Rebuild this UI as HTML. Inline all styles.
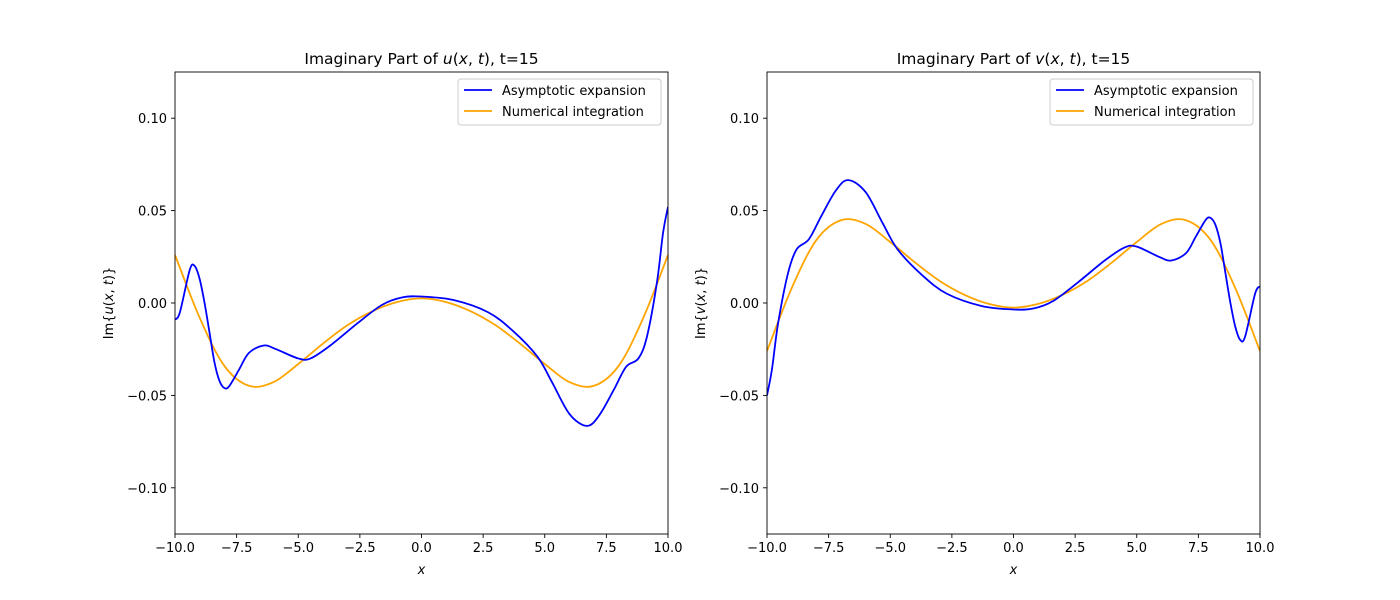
<!DOCTYPE html>
<html><head><meta charset="utf-8"><style>
body{margin:0;background:#fff}
svg{display:block;font-family:"DejaVu Sans","Liberation Sans",sans-serif}
</style></head><body>
<svg id="fig" width="1400" height="600" viewBox="0 0 1400 600" xmlns="http://www.w3.org/2000/svg"></svg>
<script>
const xTicks=[-10,-7.5,-5,-2.5,0,2.5,5,7.5,10];
const xTickLabels=["−10.0","−7.5","−5.0","−2.5","0.0","2.5","5.0","7.5","10.0"];
const yTicks=[-0.10,-0.05,0,0.05,0.10];
const yTickLabels=["−0.10","−0.05","0.00","0.05","0.10"];
const uAsymX=[-10,-9.8,-9.4,-9.2,-9.0,-8.8,-8.6,-8.4,-8.2,-8.0,-7.8,-7.4,-7.0,-6.4,-5.9,-5.0,-4.5,-3.7,-2.6,-1.6,-0.8,0,1.3,2.7,3.7,4.7,5.3,6.0,6.7,7.2,7.8,8.3,8.8,9.15,9.55,9.8,10];
const uAsymY=[-0.009,-0.005,0.018,0.020,0.013,0.0,-0.016,-0.032,-0.042,-0.046,-0.045,-0.036,-0.027,-0.023,-0.025,-0.030,-0.030,-0.023,-0.011,-0.001,0.003,0.0035,0.0016,-0.005,-0.015,-0.029,-0.043,-0.060,-0.0665,-0.061,-0.047,-0.0345,-0.030,-0.018,0.011,0.038,0.052];
const uNumX=[-10,-9,-8,-7,-6,-5,-4,-3,-2,-1,0,1,2,3,4,5,6,7,8,9,10];
const uNumY=[0.026,-0.008,-0.034,-0.0448,-0.0428,-0.033,-0.022,-0.012,-0.0045,0.0005,0.0025,0.0005,-0.0045,-0.012,-0.022,-0.033,-0.0428,-0.0448,-0.034,-0.008,0.026];
const vAsymX=[-10,-9.8,-9.55,-9.15,-8.8,-8.3,-7.8,-7.2,-6.7,-6.0,-5.3,-4.7,-3.7,-2.7,-1.3,0,0.8,1.6,2.6,3.7,4.5,5.0,5.9,6.4,7.0,7.4,7.8,8.0,8.2,8.4,8.6,8.8,9.0,9.2,9.4,9.8,10];
const vAsymY=[-0.050,-0.036,-0.011,0.016,0.029,0.0345,0.047,0.061,0.0665,0.060,0.043,0.029,0.015,0.005,-0.0016,-0.0035,-0.003,0.001,0.011,0.023,0.030,0.0305,0.025,0.023,0.027,0.036,0.045,0.046,0.042,0.032,0.016,0.0,-0.013,-0.020,-0.018,0.005,0.009];
const vNumX=[-10,-9,-8,-7,-6,-5,-4,-3,-2,-1,0,1,2,3,4,5,6,7,8,9,10];
const vNumY=[-0.026,0.008,0.034,0.0448,0.0428,0.033,0.022,0.012,0.0045,-0.0005,-0.0025,-0.0005,0.0045,0.012,0.022,0.033,0.0428,0.0448,0.034,0.008,-0.026];

const NS="http://www.w3.org/2000/svg";
const svg=document.getElementById('fig');
function mk(tag,attrs,parent,text){const e=document.createElementNS(NS,tag);for(const k in attrs)e.setAttribute(k,attrs[k]);if(text!==undefined)e.textContent=text;(parent||svg).appendChild(e);return e;}
function spline(pts){let d="M"+pts[0][0].toFixed(2)+","+pts[0][1].toFixed(2);
 for(let i=0;i<pts.length-1;i++){const p0=pts[Math.max(i-1,0)],p1=pts[i],p2=pts[i+1],p3=pts[Math.min(i+2,pts.length-1)];
  const c1=[p1[0]+(p2[0]-p0[0])/6,p1[1]+(p2[1]-p0[1])/6],c2=[p2[0]-(p3[0]-p1[0])/6,p2[1]-(p3[1]-p1[1])/6];
  d+=" C"+c1[0].toFixed(2)+","+c1[1].toFixed(2)+" "+c2[0].toFixed(2)+","+c2[1].toFixed(2)+" "+p2[0].toFixed(2)+","+p2[1].toFixed(2);}
 return d;}
function panel(left,prefix,varName,ax,ay,nx,ny){
 const right=left+493,top=72,bottom=534;
 const sx=x=>left+(x+10)/20*(right-left);
 const sy=y=>bottom-(y+0.125)/0.25*(bottom-top);
 const g=mk('g',{});
 
 
 const clipId=prefix+'clip';
 const cp=mk('clipPath',{id:clipId},g);mk('rect',{x:left,y:top,width:right-left,height:bottom-top},cp);
 const s1=mk('path',{d:spline(nx.map((x,i)=>[sx(x),sy(ny[i])])),fill:'none',stroke:'#ffa500','stroke-width':1.8,'clip-path':'url(#'+clipId+')'},g);
 
 
 const s0=mk('path',{d:spline(ax.map((x,i)=>[sx(x),sy(ay[i])])),fill:'none',stroke:'#0000ff','stroke-width':1.8,'clip-path':'url(#'+clipId+')'},g);
 
 
 const fr=mk('rect',{x:left,y:top,width:right-left,height:bottom-top,fill:'none',stroke:'#000','stroke-width':0.9},g);
 
 
 xTicks.forEach((t,i)=>{const x=sx(t);mk('line',{x1:x,x2:x,y1:bottom,y2:bottom+4,stroke:'#000','stroke-width':0.9},g);
  const tl=mk('text',{x:x,y:bottom+18,'font-size':13,'text-anchor':'middle'},g,xTickLabels[i]);
  
  });
 yTicks.forEach((t,i)=>{const y=sy(t);mk('line',{x1:left-4,x2:left,y1:y,y2:y,stroke:'#000','stroke-width':0.9},g);
  const tl=mk('text',{x:left-8,y:y+5,'font-size':13,'text-anchor':'end'},g,yTickLabels[i]);
  
  });
 const xl=mk('text',{x:(left+right)/2,y:574,'font-size':13,'font-style':'italic','text-anchor':'middle'},g,'x');
 
 
 const yl=mk('text',{x:0,y:0,'font-size':13,'text-anchor':'middle',transform:'translate('+(left-62)+','+((top+bottom)/2)+') rotate(-90)'},g);
 
 
 yl.innerHTML='Im{<tspan font-style="italic">'+varName+'</tspan>(<tspan font-style="italic">x</tspan>, <tspan font-style="italic">t</tspan>)}';
 const ti=mk('text',{x:(left+right)/2,y:64,'font-size':15.5,'text-anchor':'middle'},g);
 
 
 ti.innerHTML='Imaginary Part of <tspan font-style="italic">'+varName+'</tspan>(<tspan font-style="italic">x</tspan>, <tspan font-style="italic">t</tspan>), t=15';
 const lg=mk('g',{},g);
 
 
 const lx=right-210;
 mk('rect',{x:lx,y:79,width:203,height:46,rx:3,fill:'#fff','fill-opacity':0.8,stroke:'#ccc','stroke-width':1},lg);
 mk('line',{x1:lx+6,x2:lx+34,y1:90,y2:90,stroke:'#0000ff','stroke-width':1.8},lg);
 const e1=mk('text',{x:lx+44,y:95,'font-size':13},lg,'Asymptotic expansion');
 
 
 mk('line',{x1:lx+6,x2:lx+34,y1:111,y2:111,stroke:'#ffa500','stroke-width':1.8},lg);
 const e2=mk('text',{x:lx+44,y:116,'font-size':13},lg,'Numerical integration');
 
 
}
panel(175,'u-plot','u',uAsymX,uAsymY,uNumX,uNumY);
panel(767,'v-plot','v',vAsymX,vAsymY,vNumX,vNumY);
</script>
</body></html>
